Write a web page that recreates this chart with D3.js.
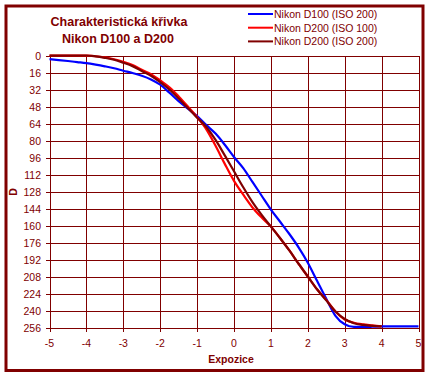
<!DOCTYPE html>
<html>
<head>
<meta charset="utf-8">
<script src="https://cdn.jsdelivr.net/npm/d3@7"></script>
<style>
  body { margin: 0; background: #fff; }
  svg text { font-family: "Liberation Sans", Arial, sans-serif; fill: #800000; }
</style>
</head>
<body>
<div id="chart"></div>
<script>
// exposure steps (EV)
const expo = [-5, -4.75, -4.5, -4.25, -4, -3.75, -3.5, -3.25, -3, -2.75, -2.5, -2.25, -2, -1.75, -1.5, -1.25,
  -1, -0.75, -0.5, -0.25, 0, 0.25, 0.5, 0.75, 1, 1.25, 1.5, 1.75, 2, 2.25, 2.5, 2.75, 3, 3.25, 3.5, 3.75,
  4, 4.25, 4.5, 4.75, 5];

// D values
const d100iso200 = [3.5, 4.3, 5.2, 6.2, 7.2, 8.6, 10.2, 12, 14.3, 16.5, 19, 22.5, 27.5, 35, 43, 50,
  57, 65.5, 73.5, 84, 95.5, 106, 119, 132, 145, 156.5, 168, 180.5, 195, 212, 229, 245, 253, 255.5, 255.5, 255.3,
  255, 255, 255, 255, 255];
const d200iso100 = [0, 0, 0, 0, 0.2, 0.7, 1.8, 3.5, 6, 9, 13.5, 17.5, 23.5, 30, 38.5, 48,
  58, 69.5, 85, 102, 118, 131, 143, 152.5, 161, 172, 183.5, 196, 208, 220, 230, 241, 248.5, 251.5, 253, 254,
  255, null, null, null, null];
const d200iso200 = [0, 0, 0, 0, 0, 0.8, 2.2, 4, 6.8, 10, 14.5, 19, 25, 32, 40.5, 49.5,
  58.5, 67.3, 79.5, 94, 109, 124, 138, 150, 161, 172, 183.5, 196, 208, 220, 230.5, 241, 248, 252, 253.5, 254.5,
  255, null, null, null, null];

const seriesNames = ["Nikon D100 (ISO 200)", "Nikon D200 (ISO 100)", "Nikon D200 (ISO 200)"];
const seriesColors = ["#0000ff", "#ff0000", "#800000"];
const xTicks = d3.range(-5, 6, 1);
const yTicks = d3.range(0, 257, 16);

const width = 430, height = 377;
const dark = "#800000";

const svg = d3.select("#chart").append("svg")
  .attr("width", width).attr("height", height);

// outer frame
svg.append("rect")
  .attr("x", 6).attr("y", 6).attr("width", 417).attr("height", 364.5)
  .attr("fill", "#fff").attr("stroke", dark).attr("stroke-width", 3);

const x = d3.scaleLinear().domain([-5, 5]).range([49.5, 418.5]);
const y = d3.scaleLinear().domain([0, 256]).range([55.5, 327.5]);

// grid
const grid = svg.append("g").attr("shape-rendering", "crispEdges");
grid.selectAll(".gx").data(xTicks).join("line")
  .attr("x1", d => Math.round(x(d)) + 0.5).attr("x2", d => Math.round(x(d)) + 0.5)
  .attr("y1", y(0)).attr("y2", y(256) + 4)
  .attr("stroke", dark);
grid.selectAll(".gy").data(yTicks).join("line")
  .attr("y1", d => Math.round(y(d)) + 0.5).attr("y2", d => Math.round(y(d)) + 0.5)
  .attr("x1", x(-5) - 4).attr("x2", x(5))
  .attr("stroke", dark);

// tick labels
svg.selectAll(".yl").data(yTicks).join("text")
  .attr("x", 41).attr("y", d => y(d) + 4)
  .attr("text-anchor", "end").attr("font-size", "10.5px")
  .text(d => d);
svg.selectAll(".xl").data(xTicks).join("text")
  .attr("x", d => x(d)).attr("y", 347)
  .attr("text-anchor", "middle").attr("font-size", "10.5px")
  .text(d => d);

// axis titles
svg.append("text")
  .attr("transform", "translate(17,192) rotate(-90)")
  .attr("text-anchor", "middle").attr("font-size", "10.5px").attr("font-weight", "bold")
  .text("D");
svg.append("text")
  .attr("x", 231).attr("y", 363)
  .attr("text-anchor", "middle").attr("font-size", "10.5px").attr("font-weight", "bold")
  .text("Expozice");

// title
svg.append("text")
  .attr("x", 119).attr("y", 26)
  .attr("text-anchor", "middle").attr("font-size", "12.5px").attr("font-weight", "bold")
  .text("Charakteristická křivka");
svg.append("text")
  .attr("x", 118).attr("y", 43)
  .attr("text-anchor", "middle").attr("font-size", "12.5px").attr("font-weight", "bold")
  .text("Nikon D100 a D200");

// curves
const allSeries = [d100iso200, d200iso100, d200iso200];
const line = d3.line()
  .defined(d => d[1] != null)
  .x(d => x(d[0])).y(d => y(d[1]))
  .curve(d3.curveMonotoneX);

allSeries.forEach((vals, i) => {
  svg.append("path")
    .datum(expo.map((e, j) => [e, vals[j]]))
    .attr("fill", "none")
    .attr("stroke", seriesColors[i])
    .attr("stroke-width", 2.2)
    .attr("d", line);
});

// legend
const legend = svg.append("g");
seriesNames.forEach((name, i) => {
  const ly = 14 + i * 13.7;
  legend.append("line")
    .attr("x1", 248).attr("x2", 273).attr("y1", ly).attr("y2", ly)
    .attr("stroke", seriesColors[i]).attr("stroke-width", 2);
  legend.append("text")
    .attr("x", 274).attr("y", ly + 4)
    .attr("font-size", "10.5px")
    .text(name);
});
</script>
</body>
</html>
